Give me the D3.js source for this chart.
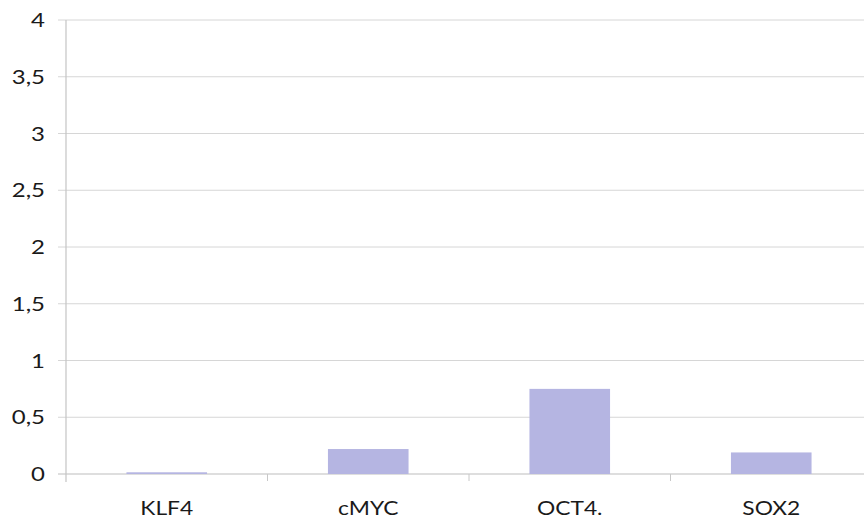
<!DOCTYPE html>
<html>
<head>
<meta charset="utf-8">
<script src="https://cdn.jsdelivr.net/npm/d3@7"></script>
<style>
  html, body { margin: 0; padding: 0; background: #fff; }
  svg { display: block; }
  text { font-family: Lato, "Open Sans", sans-serif; fill: #1a1a1a; }
</style>
</head>
<body>
<svg id="chart" width="864" height="522"></svg>
<script>
// Relative expression of reprogramming factors
const categories = ["KLF4", "cMYC", "OCT4.", "SOX2"];
const values = [0.015, 0.22, 0.75, 0.19];
const yTicks = [0, 0.5, 1, 1.5, 2, 2.5, 3, 3.5, 4];
const yTickLabels = ["0", "0,5", "1", "1,5", "2", "2,5", "3", "3,5", "4"];

const svg = d3.select("#chart");
const plot = { left: 66, right: 872, top: 20, bottom: 474 };
const textStretch = 1.2;

const x = d3.scaleBand().domain(categories).range([plot.left, plot.right]).paddingInner(0.6).paddingOuter(0.3);
const xb = d3.scaleBand().domain(categories).range([plot.left, plot.right]);
const y = d3.scaleLinear().domain([0, 4]).range([plot.bottom, plot.top]);

// horizontal gridlines
svg.append("g").selectAll("line").data(yTicks).join("line")
  .attr("x1", plot.left - 8).attr("x2", 864)
  .attr("y1", d => y(d)).attr("y2", d => y(d))
  .attr("stroke", d => d === 0 ? "#bdbdbd" : "#d6d6d6").attr("stroke-width", 1);

// y axis line
svg.append("line").attr("x1", plot.left).attr("x2", plot.left)
  .attr("y1", y(4)).attr("y2", plot.bottom + 8)
  .attr("stroke", "#c4c4c4").attr("stroke-width", 1.2);

// category separators under the baseline
svg.append("g").selectAll("line").data(categories.slice(1)).join("line")
  .attr("x1", d => xb(d)).attr("x2", d => xb(d))
  .attr("y1", plot.bottom).attr("y2", plot.bottom + 7)
  .attr("stroke", "#c8c8c8");

// y tick labels
svg.append("g").selectAll("text").data(yTicks).join("text")
  .attr("transform", d => `translate(45,${y(d)}) scale(${textStretch},1)`)
  .attr("dy", "0.36em")
  .attr("text-anchor", "end").attr("font-size", 20)
  .text((d, i) => yTickLabels[i]);

// bars
svg.append("g").selectAll("rect").data(categories).join("rect")
  .attr("x", d => x(d)).attr("width", x.bandwidth())
  .attr("y", (d, i) => y(values[i]))
  .attr("height", (d, i) => plot.bottom - y(values[i]))
  .attr("fill", "#b5b5e2");

// category labels
svg.append("g").selectAll("text").data(categories).join("text")
  .attr("transform", d => `translate(${xb(d) + xb.bandwidth() / 2},515) scale(${textStretch},1)`)
  .attr("text-anchor", "middle").attr("font-size", 19)
  .text(d => d);
</script>
</body>
</html>
